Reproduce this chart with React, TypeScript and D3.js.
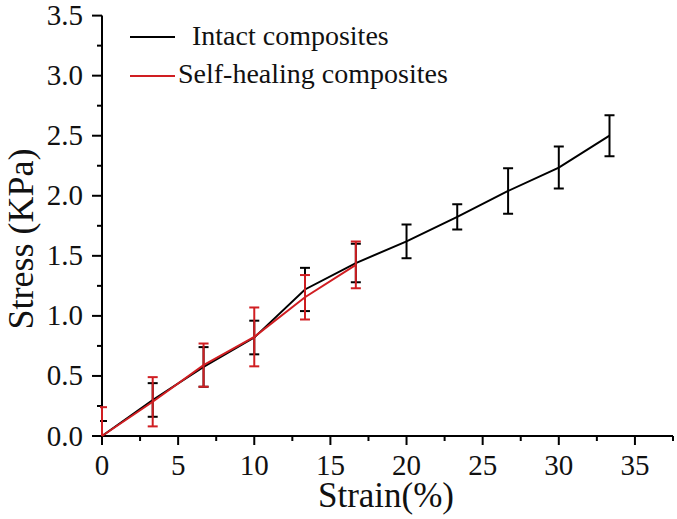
import React from "react";
import * as d3 from "d3";

const strain = [0, 3.33, 6.67, 10, 13.33, 16.67, 20, 23.33, 26.67, 30, 33.33];
const intactStress = [0, 0.3, 0.575, 0.82, 1.22, 1.44, 1.62, 1.825, 2.04, 2.235, 2.5];
const intactErr = [0.125, 0.14, 0.165, 0.14, 0.18, 0.16, 0.14, 0.105, 0.19, 0.175, 0.17];
const healingStrain = [0, 3.33, 6.67, 10, 13.33, 16.67];
const healingStress = [0, 0.285, 0.59, 0.825, 1.155, 1.425];
const healingErr = [0.24, 0.205, 0.18, 0.245, 0.185, 0.195];
const xTicks = [0, 5, 10, 15, 20, 25, 30, 35];
const yTicks = [0, 0.5, 1.0, 1.5, 2.0, 2.5, 3.0, 3.5];
const legendLabels = ["Intact composites", "Self-healing composites"];

const W = 677;
const H = 519;
const FONT = "Liberation Serif, Times New Roman, serif";
const RED = "#d01e22";

export default function App() {
  const x = d3.scaleLinear().domain([0, 37.5]).range([102, 673]);
  const y = d3.scaleLinear().domain([0, 3.5]).range([436, 15.6]);
  const line = d3
    .line<[number, number]>()
    .x((d) => x(d[0]))
    .y((d) => y(d[1]));

  const intactPts: [number, number][] = strain.map((s, i) => [s, intactStress[i]]);
  const healPts: [number, number][] = healingStrain.map((s, i) => [s, healingStress[i]]);

  const minorX = d3.range(0, 37.6, 2.5).filter((v) => Math.abs(v % 5) > 0.01);
  const minorY = d3.range(0.25, 3.5, 0.5);

  const errBars = (xs: number[], ys: number[], es: number[], color: string, key: string) =>
    xs.map((s, i) => {
      const cx = x(s);
      const top = y(ys[i] + es[i]);
      const bot = y(ys[i] - es[i]);
      return (
        <g key={key + i} stroke={color} strokeWidth={2} clipPath="url(#plotClip)">
          <line x1={cx} x2={cx} y1={top} y2={bot} />
          <line x1={cx - 5} x2={cx + 5} y1={top} y2={top} />
          <line x1={cx - 5} x2={cx + 5} y1={bot} y2={bot} />
        </g>
      );
    });

  const txt = { fontFamily: FONT, fill: "#111" };

  return (
    <svg
      width={W}
      height={H}
      style={{ position: "absolute", left: 0, top: 0, background: "#fff" }}
    >
      <defs>
        <clipPath id="plotClip">
          <rect x={x(0) - 2} y={y(3.5) - 2} width={x(37.5) - x(0) + 2} height={y(0) - y(3.5) + 2} />
        </clipPath>
      </defs>

      {/* axes */}
      <line x1={x(0)} x2={x(37.5)} y1={y(0)} y2={y(0)} stroke="#000" strokeWidth={2} />
      <line x1={x(0)} x2={x(0)} y1={y(0) + 1} y2={y(3.5)} stroke="#000" strokeWidth={2} />

      {xTicks.map((t) => (
        <g key={"xt" + t}>
          <line x1={x(t)} x2={x(t)} y1={y(0)} y2={y(0) + 9} stroke="#000" strokeWidth={2} />
          <text x={x(t)} y={475} textAnchor="middle" fontSize={29} style={txt}>
            {t}
          </text>
        </g>
      ))}
      {minorX.map((t) => (
        <line key={"xm" + t} x1={x(t)} x2={x(t)} y1={y(0)} y2={y(0) + 5} stroke="#000" strokeWidth={2} />
      ))}

      {yTicks.map((t) => (
        <g key={"yt" + t}>
          <line x1={x(0) - 10} x2={x(0)} y1={y(t)} y2={y(t)} stroke="#000" strokeWidth={2} />
          <text x={83} y={y(t) + 9.5} textAnchor="end" fontSize={29} style={txt}>
            {t.toFixed(1)}
          </text>
        </g>
      ))}
      {minorY.map((t) => (
        <line key={"ym" + t} x1={x(0) - 5} x2={x(0)} y1={y(t)} y2={y(t)} stroke="#000" strokeWidth={2} />
      ))}

      {/* series */}
      <path d={line(intactPts) || ""} fill="none" stroke="#000" strokeWidth={2} />
      {errBars(strain, intactStress, intactErr, "#000", "i")}
      <path d={line(healPts) || ""} fill="none" stroke={RED} strokeWidth={2} />
      {errBars(healingStrain, healingStress, healingErr, RED, "h")}

      {/* axis titles */}
      <text x={386} y={507} textAnchor="middle" fontSize={35} style={txt}>
        Strain(%)
      </text>
      <text
        transform={`translate(33, 239) rotate(-90)`}
        textAnchor="middle"
        fontSize={36}
        style={txt}
      >
        Stress (KPa)
      </text>

      {/* legend */}
      <line x1={130} x2={175} y1={37} y2={37} stroke="#000" strokeWidth={2} />
      <text x={192} y={45} fontSize={28} style={txt}>
        {legendLabels[0]}
      </text>
      <line x1={130} x2={175} y1={76} y2={76} stroke={RED} strokeWidth={2} />
      <text x={178} y={83} fontSize={28} style={txt}>
        {legendLabels[1]}
      </text>
    </svg>
  );
}
